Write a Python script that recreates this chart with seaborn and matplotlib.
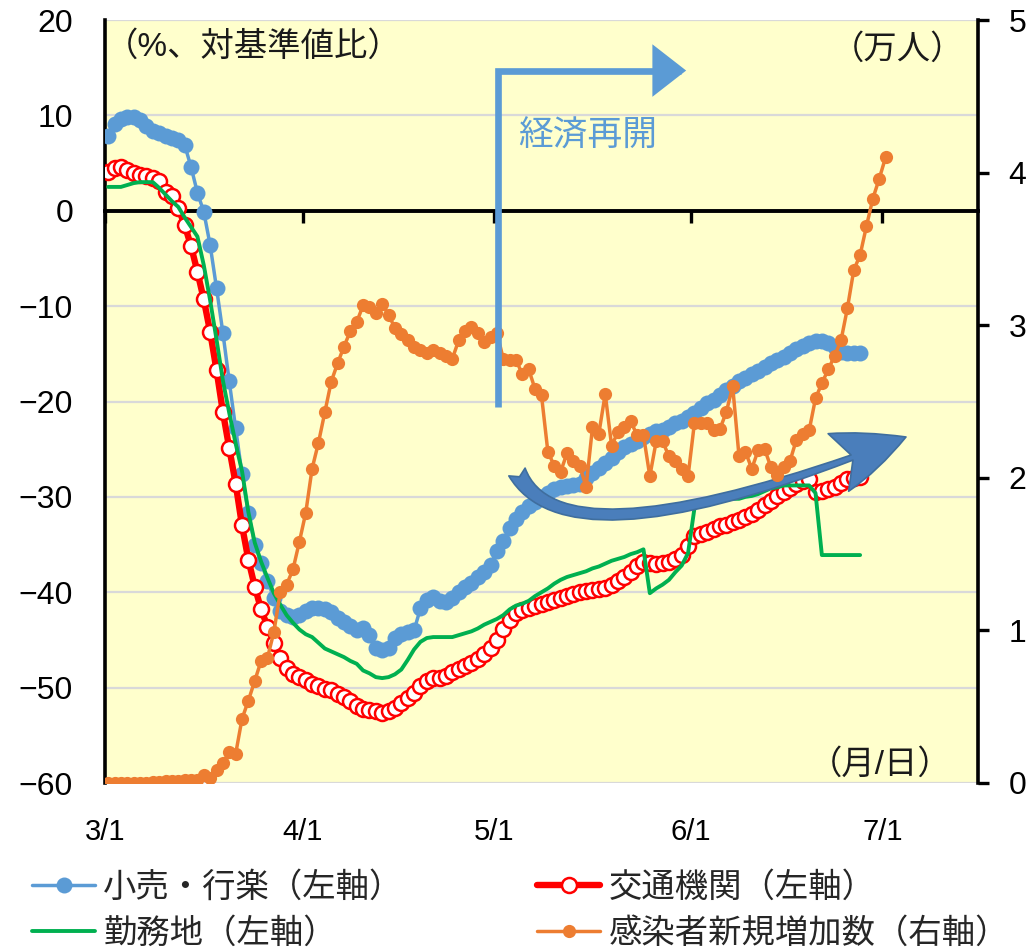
import numpy as np
import pandas as pd
import matplotlib
matplotlib.use("Agg")
import matplotlib.pyplot as plt
from matplotlib.path import Path
from matplotlib.patches import FancyArrowPatch
import seaborn as sns

# Month-start ticks (days since 3/1) and their labels
tick_days = [0, 31, 61, 92, 122]
tick_labels = ["3/1", "4/1", "5/1", "6/1", "7/1"]

# Mobility vs. baseline (%), daily from 3/1
retail = [
    7.8, 9.1, 9.6, 9.8, 9.8, 9.5, 8.9, 8.4, 8.2, 7.8,
    7.6, 7.4, 6.9, 4.6, 1.9, -0.1, -3.6, -8.1, -12.8, -17.9,
    -22.8, -27.6, -31.7, -35.0, -36.9, -38.8, -40.6, -42.0, -42.4, -42.6,
    -42.4, -42.0, -41.7, -41.7, -41.8, -42.1, -42.7, -43.1, -43.5, -44.0,
    -43.7, -44.5, -45.8, -46.1, -45.8, -44.8, -44.4, -44.2, -44.0, -41.7,
    -40.8, -40.5, -40.9, -41.0, -40.6, -40.0, -39.5, -39.0, -38.4, -37.9,
    -37.1, -35.7, -34.6, -33.3, -32.3, -31.6, -31.0, -30.5, -30.0, -29.6,
    -29.2, -29.0, -28.9, -28.8, -28.7, -28.0, -27.5, -27.0, -26.4, -25.9,
    -25.3, -24.8, -24.5, -24.1, -23.7, -23.4, -23.1, -23.0, -22.7, -22.3,
    -22.0, -21.6, -21.2, -20.7, -20.2, -19.8, -19.3, -18.8, -18.4, -17.9,
    -17.5, -17.1, -16.8, -16.4, -16.0, -15.6, -15.3, -14.9, -14.5, -14.2,
    -13.9, -13.7, -13.7, -13.9, -14.3, -14.8, -14.9, -14.9, -14.9,
]
transit = [
    4.1, 4.5, 4.6, 4.3, 4.0, 3.8, 3.6, 3.4, 3.1, 2.0,
    1.5, 0.3, -1.5, -3.7, -6.4, -9.3, -12.7, -16.7, -21.1, -24.9,
    -28.6, -33.0, -36.6, -39.4, -41.8, -43.6, -45.3, -46.9, -47.9, -48.6,
    -48.9, -49.2, -49.6, -49.8, -50.1, -50.3, -50.7, -51.0, -51.4, -51.9,
    -52.2, -52.3, -52.5, -52.7, -52.5, -52.1, -51.6, -51.1, -50.6, -49.8,
    -49.3, -49.0, -49.0, -48.8, -48.4, -48.0, -47.7, -47.4, -47.0, -46.5,
    -45.8, -45.0, -43.9, -42.9, -42.2, -41.9, -41.6, -41.4, -41.2, -41.0,
    -40.8, -40.6, -40.4, -40.2, -40.0, -39.9, -39.8, -39.7, -39.6, -39.2,
    -38.8, -38.4, -37.9, -37.3, -36.8, -36.9, -37.0, -36.9, -36.8, -36.5,
    -36.1, -35.2, -34.1, -33.9, -33.7, -33.4, -33.1, -32.9, -32.6, -32.4,
    -32.1, -31.8, -31.4, -30.9, -30.4, -29.9, -29.5, -29.1, -28.7, -28.3,
    -28.1, -29.5, -29.4, -29.2, -29.0, -28.5, -28.1, -28.0, -27.9,
]
workplace = [
    2.5, 2.5, 2.5, 2.7, 2.9, 3.0, 3.0, 3.0, 2.4, 1.7,
    1.0, 0.4, -0.7, -1.7, -2.7, -5.7, -9.4, -13.5, -17.8, -21.2,
    -24.4, -27.3, -31.6, -34.8, -36.8, -38.5, -40.1, -41.3, -42.4, -43.2,
    -43.9, -44.4, -44.7, -45.3, -45.9, -46.2, -46.5, -46.8, -47.2, -47.5,
    -48.2, -48.5, -48.9, -49.0, -48.9, -48.6, -48.1, -47.1, -46.0, -45.2,
    -44.8, -44.7, -44.7, -44.7, -44.7, -44.5, -44.3, -44.1, -43.8, -43.4,
    -43.1, -42.8, -42.4, -41.8, -41.4, -41.2, -40.9, -40.4, -40.0, -39.6,
    -39.1, -38.7, -38.4, -38.2, -38.0, -37.8, -37.5, -37.3, -37.0, -36.7,
    -36.5, -36.3, -36.0, -35.8, -35.5, -40.1, -39.6, -39.2, -38.7, -37.9,
    -37.2, -35.9, -31.2, -30.7, -30.6, -30.4, -30.3, -30.3, -30.2, -30.2,
    -30.0, -29.9, -29.7, -29.4, -29.1, -29.0, -28.8, -28.8, -28.8, -28.8,
    -28.8, -29.6, -36.1, -36.1, -36.1, -36.1, -36.1, -36.1, -36.1,
]
# Daily new infections (unit: 10,000 people), from 3/1
new_cases = [
    0.0, 0.0, 0.0, 0.0, 0.0, 0.0, 0.0, 0.005, 0.005, 0.01,
    0.01, 0.015, 0.02, 0.02, 0.02, 0.05, 0.035, 0.085, 0.13, 0.20,
    0.19, 0.42, 0.54, 0.67, 0.80, 0.82, 0.99, 1.25, 1.30, 1.40,
    1.58, 1.77, 2.06, 2.23, 2.43, 2.63, 2.75, 2.86, 2.96, 3.02,
    3.13, 3.12, 3.08, 3.14, 3.07, 2.98, 2.94, 2.90, 2.86, 2.84,
    2.82, 2.84, 2.82, 2.80, 2.78, 2.90, 2.96, 2.99, 2.95, 2.89,
    2.92, 2.95, 2.78, 2.77, 2.77, 2.68, 2.71, 2.58, 2.54, 2.17,
    2.08, 2.04, 2.16, 2.11, 2.08, 1.94, 2.33, 2.29, 2.55, 2.21,
    2.30, 2.33, 2.37, 2.28, 2.28, 2.01, 2.24, 2.24, 2.14, 2.11,
    2.06, 2.01, 2.36, 2.36, 2.36, 2.31, 2.32, 2.43, 2.60, 2.14,
    2.17, 2.06, 2.18, 2.19, 2.07, 2.02, 2.07, 2.11, 2.25, 2.29,
    2.31, 2.52, 2.62, 2.71, 2.80, 2.90, 3.11, 3.36, 3.46, 3.65,
    3.83, 3.96, 4.10,
]

series_labels = ["小売・行楽（左軸）", "交通機関（左軸）", "勤務地（左軸）", "感染者新規増加数（右軸）"]

BLUE = "#5B9BD5"
RED = "#FF0000"
GREEN = "#00B050"
ORANGE = "#ED7D31"
PANEL = "#FFFFCC"
GRID = "#D9D9D9"

# Each daily value sits in the middle of its day on the date axis
mobility = pd.DataFrame({
    "day": np.arange(len(retail)) + 0.5,
    "retail": retail,
    "transit": transit,
    "workplace": workplace,
})
infections = pd.DataFrame({
    "day": np.arange(len(new_cases)) + 0.5,
    "cases": new_cases,
})

sns.set_theme(style="white")
plt.rcParams["font.family"] = ["Liberation Sans", "Noto Sans CJK JP", "DejaVu Sans"]
plt.rcParams["axes.unicode_minus"] = True

W, H = 1026, 950
fig = plt.figure(figsize=(W / 100, H / 100), dpi=100)
L, R, T, B = 105, 978, 20, 783
ax = fig.add_axes([L / W, 1 - B / H, (R - L) / W, (B - T) / H])
ax.set_facecolor(PANEL)
ax.set_xlim(0, 137)
ax.set_ylim(-60, 20)
ax.set_yticks(np.arange(-60, 21, 10))
ax.set_xticks(tick_days)
ax.set_xticklabels(tick_labels)
ax.grid(axis="y", color=GRID, linewidth=1.6)
ax.grid(axis="x", visible=False)
ax.set_axisbelow(True)

sns.lineplot(data=mobility, x="day", y="retail", ax=ax, color=BLUE,
             linewidth=2.5, marker="o", markersize=11.5,
             markeredgecolor=BLUE, markeredgewidth=0, zorder=3)
h_retail = ax.lines[-1]
sns.lineplot(data=mobility, x="day", y="transit", ax=ax, color=RED,
             linewidth=4.6, marker="o", markersize=10.8,
             markerfacecolor="white", markeredgecolor=RED,
             markeredgewidth=1.8, zorder=3.2)
h_transit = ax.lines[-1]
sns.lineplot(data=mobility, x="day", y="workplace", ax=ax, color=GREEN,
             linewidth=2.8, zorder=3.4)
h_work = ax.lines[-1]

ax.set_xlabel("")
ax.set_ylabel("")
for side in ["top", "bottom", "right"]:
    ax.spines[side].set_visible(False)
ax.spines["left"].set_color("black")
ax.spines["left"].set_linewidth(2.6)
ax.tick_params(axis="y", left=False, length=0, pad=23, labelsize=23,
               labelcolor="black")
ax.tick_params(axis="x", bottom=False, length=0, pad=25, labelsize=21,
               labelcolor="black")

# Zero line carrying the month tick marks
zero_axis = ax.secondary_xaxis(0, transform=ax.transData)
zero_axis.set_xticks(tick_days)
zero_axis.tick_params(axis="x", bottom=True, direction="out", length=8.5,
                      width=2.4, color="black", labelbottom=False)
zero_axis.spines["bottom"].set_color("black")
zero_axis.spines["bottom"].set_linewidth(2.8)
zero_axis.set_zorder(1)

# Curved trend arrow
curve = Path([(0.4719, 0.4076), (0.5269, 0.2765), (0.9175, 0.4535)],
             [Path.MOVETO, Path.CURVE3, Path.CURVE3])
ax.add_patch(FancyArrowPatch(
    path=curve, transform=ax.transAxes,
    arrowstyle="fancy,head_length=52,head_width=44,tail_width=13",
    mutation_scale=1, facecolor="#4A7EBB", edgecolor="#3F6E9E",
    linewidth=1.2, zorder=5))

# Right axis: new infections
ax2 = ax.twinx()
ax2.set_ylim(0, 5)
ax2.set_yticks(range(6))
sns.lineplot(data=infections, x="day", y="cases", ax=ax2, color=ORANGE,
             linewidth=2.5, marker="o", markersize=9.5,
             markeredgecolor=ORANGE, markeredgewidth=0, zorder=3)
h_cases = ax2.lines[-1]
ax2.set_xlim(0, 137)
ax2.set_ylabel("")
ax2.set_xlabel("")
for side in ["top", "bottom", "left"]:
    ax2.spines[side].set_visible(False)
ax2.spines["right"].set_color("black")
ax2.spines["right"].set_linewidth(2.6)
ax2.tick_params(axis="y", right=True, direction="out", length=8, width=2.4,
                color="black", pad=14, labelsize=23, labelcolor="black")

# Reopening marker: vertical line at 5/1 turning into a right arrow
reopen = Path([(61.7, -20.6), (61.7, 14.7), (91.2, 14.7)],
              [Path.MOVETO, Path.LINETO, Path.LINETO])
ax2.add_patch(FancyArrowPatch(
    path=reopen, transform=ax.transData,
    arrowstyle="-|>,head_length=18,head_width=14", mutation_scale=1,
    color=BLUE, linewidth=4.8, joinstyle="miter", capstyle="butt",
    zorder=6))
ax2.text(64.8, 7.8, "経済再開", transform=ax.transData, color=BLUE,
         fontsize=25, ha="left", va="center", zorder=6)

# Unit labels
ax.text(0.0, 0.9646, "（%、対基準値比）", transform=ax.transAxes,
        fontsize=24, ha="left", va="center", color="#1a1a1a")
ax.text(0.984, 0.9607, "（万人）", transform=ax.transAxes,
        fontsize=24, ha="right", va="center", color="#1a1a1a")
ax.text(0.970, 0.0236, "（月/日）", transform=ax.transAxes,
        fontsize=24, ha="right", va="center", color="#1a1a1a")

fig.legend(handles=[h_retail, h_work, h_transit, h_cases],
           labels=[series_labels[0], series_labels[2],
                   series_labels[1], series_labels[3]],
           ncol=2, loc="lower left", bbox_to_anchor=(32 / W, 0.0),
           frameon=False, fontsize=24, handlelength=1.9,
           handletextpad=0.24, columnspacing=4.0, labelspacing=0.43,
           borderpad=0, borderaxespad=0, numpoints=1)

fig.savefig("out.png", dpi=100, facecolor="white")
